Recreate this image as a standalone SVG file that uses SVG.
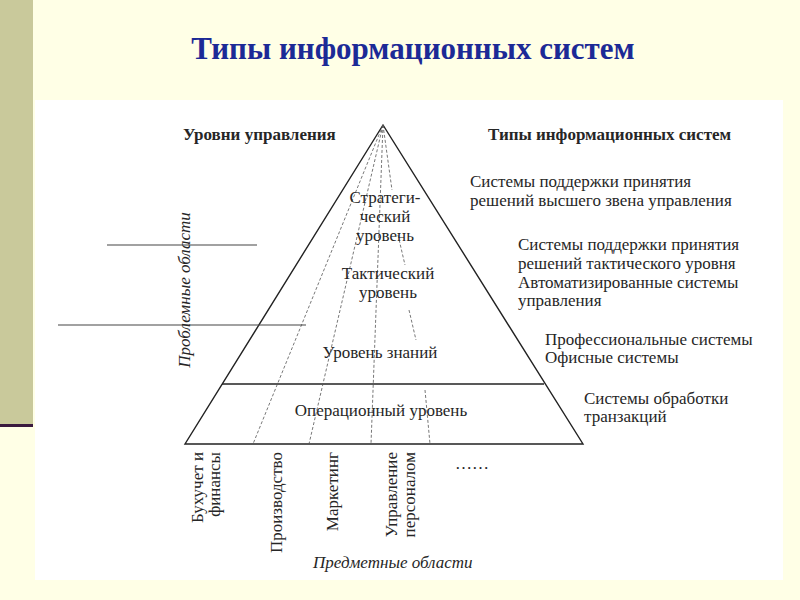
<svg xmlns="http://www.w3.org/2000/svg" width="800" height="600" viewBox="0 0 800 600">
<style>
.t{font-family:"Liberation Serif","Times New Roman",serif;fill:#262626;font-size:17px}
.b{font-weight:bold}
.i{font-style:italic}
.c{text-anchor:middle}
.e{text-anchor:end}
.ln{stroke:#222;stroke-width:1.4;fill:none}
.dl{stroke:#555;stroke-width:0.8;stroke-dasharray:3 2;fill:none}
.gl{stroke:#444;stroke-width:1.2}
</style>
<rect x="0" y="0" width="800" height="600" fill="#FFFFE6"/>
<rect x="0" y="0" width="33" height="424" fill="#C9C99B"/>
<rect x="0" y="424" width="33" height="3" fill="#3A1A3E"/>
<rect x="35" y="100" width="748" height="480" fill="#FFFFFF"/>
<text x="413" y="59" class="c b" font-family="Liberation Serif, serif" font-size="31" fill="#1C2A96">Типы информационных систем</text>

<g id="connectors">
<path class="ln" d="M383,125 L185,444 L583,444 Z"/>
<line class="ln" x1="222" y1="384" x2="544" y2="384"/>
<line class="dl" x1="383" y1="125" x2="253" y2="444"/>
<line class="dl" x1="383" y1="125" x2="309" y2="444"/>
<line class="dl" x1="383" y1="125" x2="371" y2="444"/>
<line class="dl" x1="383" y1="125" x2="392" y2="190"/>
<line class="dl" x1="398" y1="235" x2="405" y2="265"/>
<line class="dl" x1="409" y1="310" x2="416" y2="340"/>
<line class="dl" x1="425" y1="390" x2="430" y2="444"/>
<line class="gl" x1="107" y1="245" x2="257" y2="245"/>
<line class="gl" x1="58" y1="325" x2="306" y2="325"/>
</g>

<g id="headers">
<text class="t b" x="183" y="140" font-size="15.7">Уровни управления</text>
<text class="t b" x="488" y="140" font-size="15.8">Типы информационных систем</text>
</g>

<g id="levels">
<text class="t c" x="385" y="203">Стратеги-</text>
<text class="t c" x="385" y="222">ческий</text>
<text class="t c" x="385" y="241">уровень</text>
<text class="t c" x="388" y="279">Тактический</text>
<text class="t c" x="388" y="298">уровень</text>
<text class="t c" x="380" y="358">Уровень знаний</text>
<text class="t c" x="381" y="416">Операционный уровень</text>
</g>

<g id="systems">
<text class="t" x="470" y="187">Системы поддержки принятия</text>
<text class="t" x="470" y="206">решений высшего звена управления</text>
<text class="t" x="518" y="250">Системы поддержки принятия</text>
<text class="t" x="518" y="269">решений тактического уровня</text>
<text class="t" x="518" y="288">Автоматизированные системы</text>
<text class="t" x="518" y="306">управления</text>
<text class="t" x="545" y="345">Профессиональные системы</text>
<text class="t" x="545" y="363">Офисные системы</text>
<text class="t" x="584" y="404">Системы обработки</text>
<text class="t" x="584" y="422">транзакций</text>
</g>

<g id="problem-areas">
<text class="t i c" transform="translate(190,290) rotate(-90)">Проблемные области</text>
</g>

<g id="subject-areas">
<text class="t e" font-size="16.4" transform="translate(203,452) rotate(-90)">Бухучет и</text>
<text class="t e" font-size="16.4" transform="translate(220,452) rotate(-90)">финансы</text>
<text class="t e" font-size="16.4" transform="translate(282,452) rotate(-90)">Производство</text>
<text class="t e" font-size="16.4" transform="translate(338,452) rotate(-90)">Маркетинг</text>
<text class="t e" font-size="16.4" transform="translate(397,452) rotate(-90)">Управление</text>
<text class="t e" font-size="16.4" transform="translate(415,452) rotate(-90)">персоналом</text>
<text class="t" x="455" y="469">……</text>
<text class="t i" x="313" y="568">Предметные области</text>
</g>
</svg>
